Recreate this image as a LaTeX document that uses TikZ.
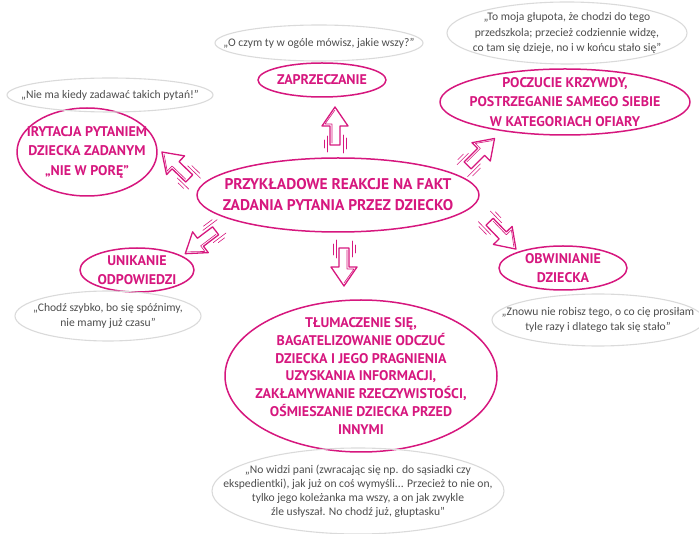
\documentclass[tikz,border=0pt]{standalone}
\usepackage{fontspec}
\setmainfont{PT Sans}
\newfontfamily\quotefont{Carlito}
\usetikzlibrary{shapes.geometric}
\definecolor{rmag}{HTML}{D6177E}
\definecolor{qline}{HTML}{DADADA}
\definecolor{qtext}{HTML}{4D4D4D}
\tikzset{
  every picture/.style={line cap=round, line join=round},
  reaction/.style={ellipse, draw=rmag, line width=1.5pt, inner sep=0pt},
  saying/.style={ellipse, draw=qline, line width=1.1pt, inner sep=0pt},
  rtext/.style={text=rmag, align=center, inner sep=0pt, font=\bfseries\fontsize{14}{19.5}\selectfont},
  qtext/.style={text=qtext, align=center, inner sep=0pt, font=\quotefont\fontsize{11.6}{15}\selectfont},
  arrline/.style={draw=rmag, line width=1.3pt},
  arrthin/.style={draw=rmag, line width=0.6pt},
  % hollow arrow with speed lines, tail at the origin, tip at (46,0)
  blockarrow/.pic={
    \draw[arrline] (8,-5) -- (27,-5) -- (27,-13) -- (46,0) -- (27,13) -- (27,5) -- (8,5) -- cycle;
    \draw[arrthin] (10,-3) -- (29,-3) -- (29,-10) -- (43,0);
    \draw[arrthin] (0,8) -- (18,8) (4,11) -- (15,11) (1,-8) -- (17,-8) (5,-11) -- (13,-11);
  },
}
\begin{document}
\begin{tikzpicture}[x=1pt, y=-1pt]
  \useasboundingbox (0,0) rectangle (699,534);
  % centre
  \node[reaction, minimum width=282, minimum height=74,
    label={[rtext, font=\bfseries\fontsize{15.5}{21}\selectfont]center:PRZYKŁADOWE REAKCJE NA FAKT\\ZADANIA PYTANIA PRZEZ DZIECKO}] (main) at (338,195) {};
  % reactions
  \node[reaction, minimum width=128, minimum height=34,
    label={[rtext]center:ZAPRZECZANIE}] (zap) at (322,80) {};
  \node[reaction, minimum width=250, minimum height=66,
    label={[rtext]center:POCZUCIE KRZYWDY,\\POSTRZEGANIE SAMEGO SIEBIE\\W KATEGORIACH OFIARY}] (krzyw) at (565,102) {};
  \node[reaction, minimum width=140, minimum height=88,
    label={[rtext]center:IRYTACJA PYTANIEM\\DZIECKA ZADANYM\\„NIE W PORĘ”}] (iryt) at (87,152) {};
  \node[reaction, minimum width=114, minimum height=44,
    label={[rtext]center:UNIKANIE\\ODPOWIEDZI}] (unik) at (137,270) {};
  \node[reaction, minimum width=128, minimum height=44,
    label={[rtext]center:OBWINIANIE\\DZIECKA}] (obw) at (563,268) {};
  \node[reaction, minimum width=272, minimum height=152,
    label={[rtext, font=\bfseries\fontsize{14}{17.8}\selectfont]center:TŁUMACZENIE SIĘ,\\BAGATELIZOWANIE ODCZUĆ\\DZIECKA I JEGO PRAGNIENIA\\UZYSKANIA INFORMACJI,\\ZAKŁAMYWANIE RZECZYWISTOŚCI,\\OŚMIESZANIE DZIECKA PRZED\\INNYMI}] (tlum) at (361,376) {};
  % what is said
  \node[saying, minimum width=208, minimum height=36,
    label={[qtext]center:„O czym ty w ogóle mówisz, jakie wszy?”}] (zapq) at (319,43) {};
  \node[saying, minimum width=240, minimum height=62,
    label={[qtext, font=\quotefont\fontsize{11.6}{15.5}\selectfont]center:„To moja głupota, że chodzi do tego\\przedszkola; przecież codziennie widzę,\\co tam się dzieje, no i w końcu stało się”}] (krzywq) at (567,33) {};
  \node[saying, minimum width=206, minimum height=34,
    label={[qtext]center:„Nie ma kiedy zadawać takich pytań!”}] (irytq) at (110,95) {};
  \node[saying, minimum width=186, minimum height=50,
    label={[qtext]center:„Chodź szybko, bo się spóźnimy,\\nie mamy już czasu”}] (unikq) at (108,316) {};
  \node[saying, minimum width=212, minimum height=52,
    label={[qtext]center:„Znowu nie robisz tego, o co cię prosiłam\\tyle razy i dlatego tak się stało”}] (obwq) at (598,320) {};
  \node[saying, minimum width=292, minimum height=86,
    label={[qtext, font=\quotefont\fontsize{11.6}{14}\selectfont]center:„No widzi pani (zwracając się np. do sąsiadki czy\\ekspedientki), jak już on coś wymyśli... Przecież to nie on,\\tylko jego koleżanka ma wszy, a on jak zwykle\\źle usłyszał. No chodź już, głuptasku”}] (tlumq) at (358,491) {};
  % arrows out of the centre
  \pic[rotate=90] at (335,153) {blockarrow};
  \pic[rotate=136] at (195,184) {blockarrow};
  \pic[rotate=217] at (222,226) {blockarrow};
  \pic[rotate=45] at (462,171) {blockarrow};
  \pic[rotate=314] at (484,216) {blockarrow};
  \pic[rotate=270] at (344,240) {blockarrow};
\end{tikzpicture}
\end{document}
